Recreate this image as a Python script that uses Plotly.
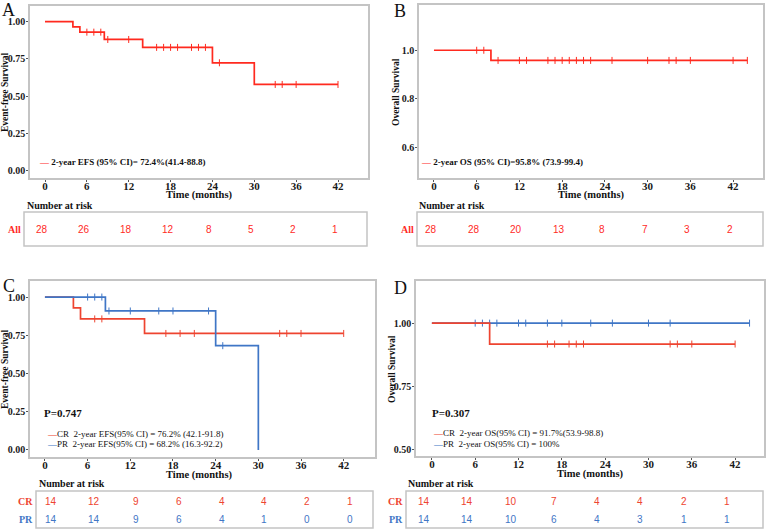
import plotly.graph_objects as go

W, H = 768, 530

# ---------------- data ----------------
months = [0, 6, 12, 18, 24, 30, 36, 42]

# Panel A: EFS, all patients
a_times = [0, 4, 5, 8.5, 14, 24, 30, 42]
a_surv = [1.0, 0.964, 0.929, 0.880, 0.827, 0.724, 0.579, 0.579]
a_cens = [6, 7, 8, 9, 12, 16, 17, 18, 19, 21, 22, 23, 25, 33, 34, 36, 42]
a_risk = [28, 26, 18, 12, 8, 5, 2, 1]

# Panel B: OS, all patients
b_times = [0, 8, 44]
b_surv = [1.0, 0.958, 0.958]
b_cens = [6, 7, 9, 12, 13, 16, 17, 18, 19, 20, 21, 22, 25, 30, 33, 34, 36, 42, 44]
b_risk = [28, 28, 20, 13, 8, 7, 3, 2]

# Panel C: EFS by response
c_cr_times = [0, 4, 5, 14, 42]
c_cr_surv = [1.0, 0.929, 0.857, 0.762, 0.762]
c_cr_cens = [7, 8, 17, 19, 21, 33, 34, 36, 42]
c_pr_times = [0, 8.5, 24, 30]
c_pr_surv = [1.0, 0.909, 0.682, 0.0]
c_pr_cens = [6, 7, 8, 9, 12, 16, 18, 23, 25]
c_cr_risk = [14, 12, 9, 6, 4, 4, 2, 1]
c_pr_risk = [14, 14, 9, 6, 4, 1, 0, 0]

# Panel D: OS by response
d_cr_times = [0, 8, 42]
d_cr_surv = [1.0, 0.917, 0.917]
d_cr_cens = [16, 17, 19, 20, 21, 33, 34, 36, 42]
d_pr_times = [0, 44]
d_pr_surv = [1.0, 1.0]
d_pr_cens = [6, 7, 8, 9, 12, 13, 16, 18, 22, 25, 30, 33, 44]
d_cr_risk = [14, 14, 10, 7, 4, 4, 2, 1]
d_pr_risk = [14, 14, 10, 6, 4, 3, 1, 1]

# ---------------- style ----------------
RED_AB = "#FF2A1F"
RED = "#EE4430"
BLUE = "#3F76C6"
SERIF = "Liberation Serif"
SANS = "Liberation Sans"
FRAME = "#C4C4C4"


def px(x):
    return x / W


def py(y):
    return 1 - y / H


def surv_at(times, surv, t):
    s = surv[0]
    for ti, si in zip(times, surv):
        if ti <= t:
            s = si
    return s


fig = go.Figure()


def add_km(times, surv, cens, color, xa, ya, width=1.7):
    fig.add_trace(go.Scatter(
        x=times, y=surv, mode="lines", line=dict(color=color, width=width, shape="hv"),
        xaxis=xa, yaxis=ya, showlegend=False, hoverinfo="skip"))
    fig.add_trace(go.Scatter(
        x=cens, y=[surv_at(times, surv, t) for t in cens], mode="markers",
        marker=dict(symbol="line-ns-open", size=5, color=color,
                    line=dict(color=color, width=1)),
        xaxis=xa, yaxis=ya, showlegend=False, hoverinfo="skip"))


add_km(a_times, a_surv, a_cens, RED_AB, "x", "y")
add_km(b_times, b_surv, b_cens, RED_AB, "x2", "y2")
add_km(c_cr_times, c_cr_surv, c_cr_cens, RED, "x3", "y3")
add_km(c_pr_times, c_pr_surv, c_pr_cens, BLUE, "x3", "y3")
add_km(d_pr_times, d_pr_surv, d_pr_cens, BLUE, "x4", "y4")
add_km(d_cr_times, d_cr_surv, d_cr_cens, RED, "x4", "y4")

xtickfont = dict(family=SERIF, size=11, color="#1a1a1a", weight="bold")
ytickfont = dict(family=SERIF, size=10, color="#1a1a1a", weight="bold")


def xax(dom, rng, anchor):
    return dict(domain=dom, range=rng, anchor=anchor, tickvals=months,
                ticks="outside", ticklen=2, tickcolor="#555555", tickwidth=1,
                ticklabelstandoff=-5,
                showline=True, mirror=True, linecolor=FRAME, linewidth=1.5,
                showgrid=False, zeroline=False, tickfont=xtickfont)


def yax(dom, rng, anchor, tv, fmt):
    return dict(domain=dom, range=rng, anchor=anchor, tickvals=tv,
                ticktext=[fmt.format(v) for v in tv],
                ticks="outside", ticklen=2, tickcolor="#555555", tickwidth=1,
                ticklabelstandoff=-1,
                showline=True, mirror=True, linecolor=FRAME, linewidth=1.5,
                showgrid=False, zeroline=False, tickfont=ytickfont)


fig.update_layout(
    width=W, height=H, margin=dict(l=0, r=0, t=0, b=0),
    paper_bgcolor="white", plot_bgcolor="white", showlegend=False,
    xaxis=xax([px(30), px(368)], [-2.15, 46.3], "y"),
    yaxis=yax([py(178), py(6)], [-0.047, 1.104], "x", [0, 0.25, 0.5, 0.75, 1.0], "{:.2f}"),
    xaxis2=xax([px(419), px(763)], [-2.1, 46.2], "y2"),
    yaxis2=yax([py(178), py(5)], [0.472, 1.187], "x2", [0.6, 0.8, 1.0], "{:.1f}"),
    xaxis3=xax([px(30), px(375)], [-2.1, 46.4], "y3"),
    yaxis3=yax([py(457), py(281)], [-0.046, 1.105], "x3", [0, 0.25, 0.5, 0.75, 1.0], "{:.2f}"),
    xaxis4=xax([px(416), px(764)], [-2.2, 46.0], "y4"),
    yaxis4=yax([py(456), py(281)], [0.473, 1.167], "x4", [0.5, 0.75, 1.0], "{:.2f}"),
)

ann = []
shapes = []


def text(x, y, s, size=10, color="#111111", family=SERIF, bold=False, xanchor="center",
         angle=0):
    ann.append(dict(x=px(x), y=py(y), xref="paper", yref="paper", text=s, showarrow=False,
                    xanchor=xanchor, yanchor="middle", textangle=angle,
                    font=dict(family=family, size=size, color=color,
                              weight="bold" if bold else "normal")))


# panel letters
text(8, 10, "A", size=18)
text(400, 11, "B", size=18)
text(9, 286, "C", size=18)
text(400, 288, "D", size=18)

# axis titles
text(5, 92, "Event-free Survival", size=9.5, bold=True, angle=-90)
text(396, 92, "Overall Survival", size=9.5, bold=True, angle=-90)
text(5, 369, "Event-free Survival", size=9.5, bold=True, angle=-90)
text(392, 369, "Overall Survival", size=9.5, bold=True, angle=-90)
text(199, 195, "Time (months)", size=10.5, bold=True)
text(591, 195, "Time (months)", size=10.5, bold=True)
text(199, 475, "Time (months)", size=10.5, bold=True)
text(590, 474, "Time (months)", size=10.5, bold=True)

# legends
text(37, 162, f"<span style='color:{RED_AB}'><b>—</b></span> 2-year EFS (95% CI)= 72.4%(41.4-88.8)",
     size=9, bold=True, xanchor="left")
text(419, 162, f"<span style='color:{RED_AB}'><b>—</b></span> 2-year OS (95% CI)=95.8% (73.9-99.4)",
     size=9, bold=True, xanchor="left")
text(42, 413, "P=0.747", size=11, bold=True, xanchor="left")
text(45, 434, f"<span style='color:{RED}'><b>—</b></span>CR  2-year EFS(95% CI) = 76.2% (42.1-91.8)",
     size=9, xanchor="left")
text(45, 444, f"<span style='color:{BLUE}'><b>—</b></span>PR  2-year EFS(95% CI) = 68.2% (16.3-92.2)",
     size=9, xanchor="left")
text(430, 413, "P=0.307", size=11, bold=True, xanchor="left")
text(431, 433, f"<span style='color:{RED}'><b>—</b></span>CR  2-year OS(95% CI) = 91.7%(53.9-98.8)",
     size=9, xanchor="left")
text(431, 444, f"<span style='color:{BLUE}'><b>—</b></span>PR  2-year OS(95% CI) = 100%",
     size=9, xanchor="left")


# risk tables
def box(x0, y0, x1, y1):
    shapes.append(dict(type="rect", xref="paper", yref="paper", x0=px(x0), x1=px(x1),
                       y0=py(y1), y1=py(y0), line=dict(color=FRAME, width=1.5)))


def risk_row(values, xref, y, color, shift=-3):
    for m, v in zip(months, values):
        ann.append(dict(x=m, y=py(y), xref=xref, yref="paper", text=str(v), showarrow=False,
                        xanchor="center", yanchor="middle", xshift=shift,
                        font=dict(family=SANS, size=10, color=color)))


box(24, 212, 367, 246)
text(25, 205, "Number at risk", size=10, bold=True, xanchor="left")
text(23, 229, "All", size=10, bold=True, color=RED_AB, xanchor="right")
risk_row(a_risk, "x", 229, RED_AB)

box(417, 212, 763, 246)
text(417, 205, "Number at risk", size=10, bold=True, xanchor="left")
text(416, 229, "All", size=10, bold=True, color=RED_AB, xanchor="right")
risk_row(b_risk, "x2", 229, RED_AB)

box(36, 491, 373, 528)
text(37, 483, "Number at risk", size=10, bold=True, xanchor="left")
text(35, 501, "CR", size=10, bold=True, color=RED, xanchor="right")
text(35, 519, "PR", size=10, bold=True, color=BLUE, xanchor="right")
risk_row(c_cr_risk, "x3", 501, RED, shift=6)
risk_row(c_pr_risk, "x3", 519, BLUE, shift=6)

box(406, 491, 763, 528)
text(406, 483, "Number at risk", size=10, bold=True, xanchor="left")
text(405, 501, "CR", size=10, bold=True, color=RED, xanchor="right")
text(405, 519, "PR", size=10, bold=True, color=BLUE, xanchor="right")
risk_row(d_cr_risk, "x4", 501, RED, shift=-8)
risk_row(d_pr_risk, "x4", 519, BLUE, shift=-8)

fig.update_layout(annotations=ann, shapes=shapes)
fig.write_html("out.html")
